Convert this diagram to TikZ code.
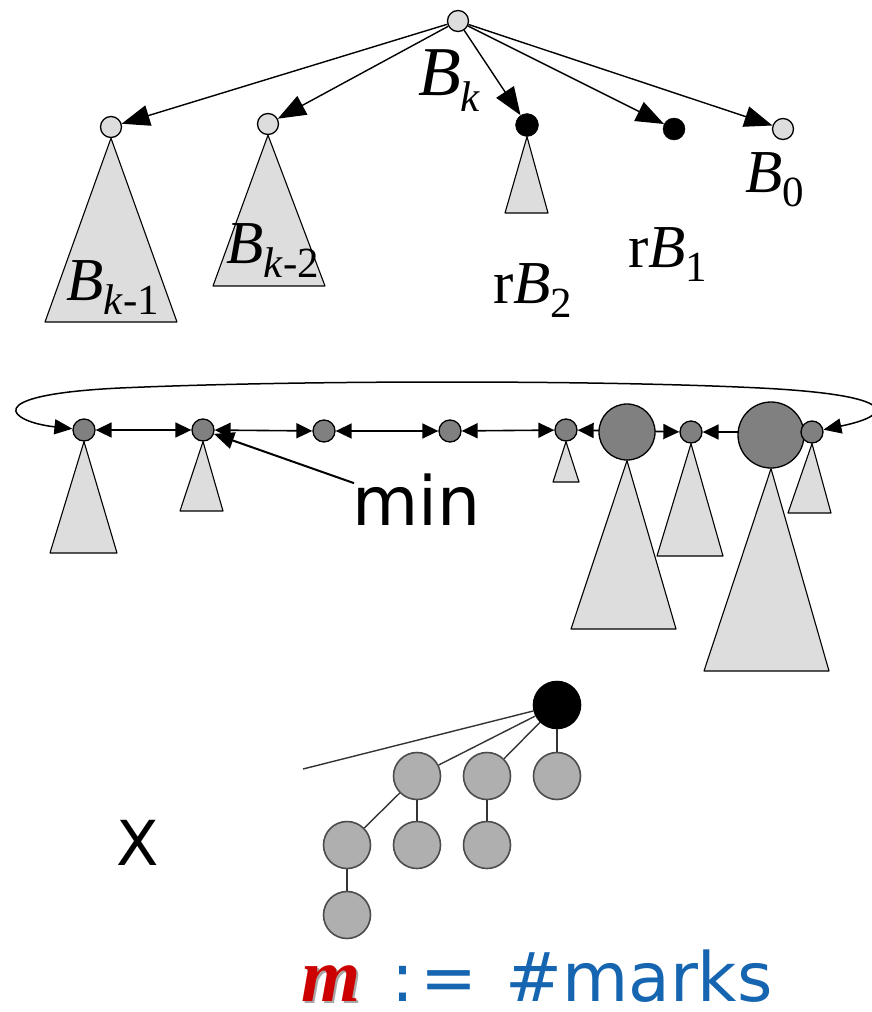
\documentclass[tikz,border=0pt]{standalone}
\usepackage{fontspec}
\setmainfont{Liberation Serif}
\newfontfamily\vsans{DejaVu Sans}
\usepackage{xcolor}
\usepackage{tikz}
\usetikzlibrary{arrows.meta,backgrounds}
\definecolor{heapfill}{HTML}{DDDDDD}
\definecolor{rootgray}{HTML}{808080}
\definecolor{treegray}{HTML}{AFAFAF}
\definecolor{markred}{HTML}{CC0000}
\definecolor{markblue}{HTML}{1565B0}
\newcommand{\lowsub}[1]{\raisebox{-0.24em}{\fontsize{43}{43}\selectfont #1}}

\begin{document}
\begin{tikzpicture}[x=1pt,y=-1pt,
lite/.style={circle,draw,fill=heapfill,line width=1.3pt,minimum size=21pt,inner sep=0pt},
marked/.style={circle,draw,fill=black,minimum size=22pt,inner sep=0pt},
hnode/.style={circle,draw,fill=rootgray,line width=1.3pt,minimum size=22pt,inner sep=0pt},
tnode/.style={circle,draw=black!70,fill=treegray,line width=1.6pt,minimum size=47pt,inner sep=0pt},
tri/.style={draw,fill=heapfill,line width=1.1pt,line join=round},
ptr/.style={-{Triangle[length=28pt,width=21pt]},line width=1.4pt},
minptr/.style={-{Triangle[length=20pt,width=17pt]},line width=2pt},
link/.style={{Triangle[length=16pt,width=15pt]}-{Triangle[length=16pt,width=15pt]},line width=1.6pt},
ring/.style={{Triangle[length=18pt,width=15pt]}-{Triangle[length=18pt,width=15pt]},line width=1.5pt},
tedge/.style={draw=black!80,line width=1.4pt},
lbl/.style={inner sep=0pt,anchor=base west,font=\fontsize{61}{61}\selectfont},
sans/.style={inner sep=0pt,font=\vsans\fontsize{68}{68}\selectfont}]
\useasboundingbox (0,0) rectangle (872,1012);

\node[lite] (root) at (458,21) {};
\node[lite] (bk1) at (111,127) {};
\node[lite] (bk2) at (268,124) {};
\node[marked,minimum size=23pt] (rb2) at (527,125) {};
\node[marked] (rb1) at (674,129) {};
\node[lite] (b0) at (783,129) {};
\foreach \c in {bk1,bk2,rb2,rb1,b0} \draw[ptr] (root) -- (\c);
\begin{scope}[on background layer]
\draw[tri] (bk1.south) -- (45,322) -- (177,322) -- cycle;
\draw[tri] (bk2.south) -- (213,286) -- (325,286) -- cycle;
\draw[tri] (rb2.south) -- (505,213) -- (548,213) -- cycle;
\end{scope}
\node[lbl,font=\fontsize{70}{70}\selectfont] (lbk) at (418,95) {\textit{B}\lowsub{\textit{k}}};
\node[lbl] (lbk1) at (66,300) {\textit{B}\lowsub{\textit{k}-1}};
\node[lbl] (lbk2) at (226,263) {\textit{B}\lowsub{\textit{k}-2}};
\node[lbl] (lrb2) at (493,303) {r\textit{B}\lowsub{2}};
\node[lbl] (lrb1) at (628,267) {r\textit{B}\lowsub{1}};
\node[lbl] (lb0) at (745,192) {\textit{B}\lowsub{0}};

\node[hnode] (h1) at (84,430) {};
\node[hnode] (h2) at (203,430) {};
\node[hnode] (h3) at (324,431) {};
\node[hnode] (h4) at (450,431) {};
\node[hnode] (h5) at (566,430) {};
\node[hnode,minimum size=56pt] (big1) at (627,432) {};
\node[hnode] (h6) at (691,432) {};
\node[hnode,minimum size=66pt] (big2) at (771,435) {};
\node[hnode] (h7) at (812,432) {};
\begin{scope}[on background layer]
\draw[link] (h1) -- (h2); \draw[link] (h2) -- (h3); \draw[link] (h3) -- (h4);
\draw[link] (h4) -- (h5); \draw[link] (h5) -- (h6); \draw[link] (h6) -- (h7);
\draw[tri] (big1.south) -- (571,629) -- (676,629) -- cycle;
\draw[tri] (big2.south) -- (704,671) -- (829,671) -- cycle;
\draw[tri] (h1.south) -- (50,553) -- (117,553) -- cycle;
\draw[tri] (h2.south) -- (180,511) -- (223,511) -- cycle;
\draw[tri] (h5.south) -- (553,482) -- (579,482) -- cycle;
\draw[tri] (h6.south) -- (657,556) -- (723,556) -- cycle;
\draw[tri] (h7.south) -- (788,513) -- (831,513) -- cycle;
\end{scope}
\draw[ring] (h7) .. controls (895,415) and (900,395) .. (760,388)
  .. controls (600,380) and (300,380) .. (120,388)
  .. controls (-25,395) and (10,422) .. (h1);
\node[sans,anchor=base west] (minlbl) at (352,525) {min};
\draw[minptr] ([shift={(2,10)}]minlbl.north west) -- (h2);

\node[tnode,fill=black,draw=black] (top) at (557,705) {};
\node[tnode] (t1) at (417,776) {};
\node[tnode] (t2) at (487,776) {};
\node[tnode] (t3) at (557,776) {};
\node[tnode] (t4) at (347,845) {};
\node[tnode] (t5) at (417,845) {};
\node[tnode] (t6) at (487,845) {};
\node[tnode] (t7) at (347,915) {};
\coordinate (cut) at (303,769);
\draw[tedge] (top) -- (cut);
\foreach \c in {t1,t2,t3} \draw[tedge] (top) -- (\c);
\draw[tedge] (t1) -- (t4); \draw[tedge] (t1) -- (t5);
\draw[tedge] (t2) -- (t6); \draw[tedge] (t4) -- (t7);
\node[sans,anchor=base,font=\vsans\fontsize{62}{62}\selectfont] (xlbl) at (138,865) {X};

\node[inner sep=0pt,anchor=base west,font=\fontsize{76}{76}\selectfont\bfseries\itshape,text=black!35] (mshade) at (303,1003) {m};
\node[inner sep=0pt,anchor=base west,font=\fontsize{76}{76}\selectfont\bfseries\itshape,text=markred] (mvar) at (301,1001) {m};
\node[inner sep=0pt,anchor=base west,font=\vsans\fontsize{68}{68}\selectfont,text=markblue] (marks) at (391,1001) {:\kern6pt=\hspace{28pt}\#marks};
\end{tikzpicture}
\end{document}
